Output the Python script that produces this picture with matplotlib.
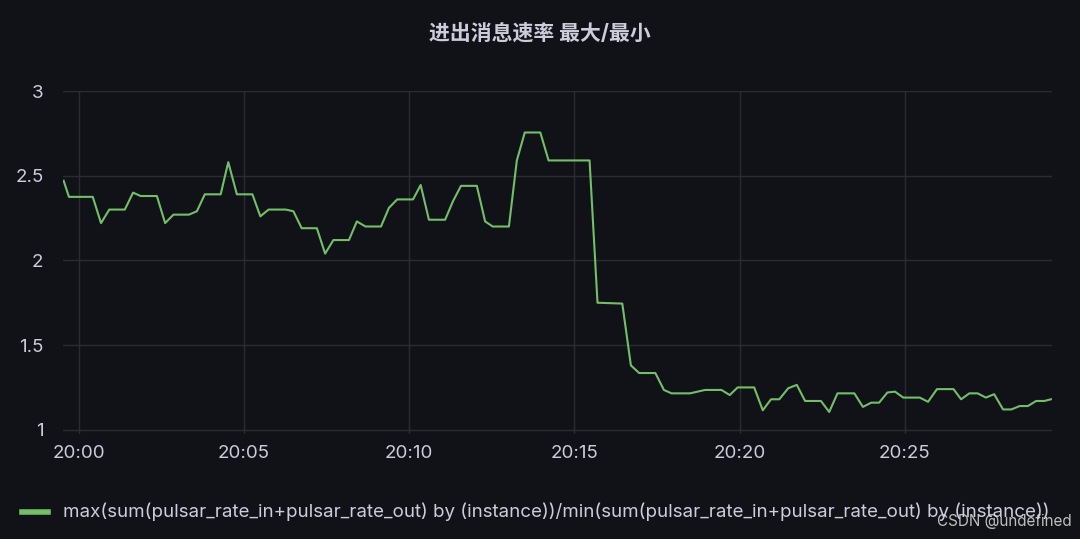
import matplotlib
matplotlib.use("Agg")
import matplotlib.pyplot as plt
import matplotlib.dates as mdates
import pandas as pd

plt.rcParams['font.family'] = ['Inter', 'Noto Sans CJK SC', 'DejaVu Sans']

minutes = [-0.45,-0.29,0.43,0.68,0.93,1.40,1.65,1.88,2.37,2.62,2.87,3.34,3.58,3.82,4.30,4.53,4.79,5.26,5.50,5.75,6.27,6.5,6.75,7.21,7.46,7.71,8.18,8.42,8.68,9.15,9.39,9.64,10.12,10.35,10.6,11.09,11.33,11.57,12.05,12.3,12.53,13.02,13.26,13.5,13.97,14.22,14.93,15.46,15.70,16.45,16.71,16.96,17.45,17.71,17.94,18.5,18.95,19.45,19.7,19.94,20.44,20.7,20.95,21.2,21.47,21.73,21.98,22.46,22.71,22.96,23.47,23.73,23.98,24.22,24.47,24.7,24.95,25.45,25.7,25.97,26.47,26.7,26.95,27.2,27.45,27.7,27.97,28.22,28.47,28.72,28.97,29.22,29.42]
values = [2.47,2.375,2.375,2.22,2.30,2.30,2.40,2.38,2.38,2.22,2.27,2.27,2.29,2.39,2.39,2.58,2.39,2.39,2.26,2.30,2.30,2.29,2.19,2.19,2.04,2.12,2.12,2.23,2.20,2.20,2.31,2.36,2.36,2.445,2.24,2.24,2.35,2.44,2.44,2.23,2.20,2.20,2.59,2.755,2.755,2.59,2.59,2.59,1.75,1.745,1.38,1.335,1.335,1.235,1.215,1.215,1.235,1.235,1.205,1.25,1.25,1.115,1.18,1.18,1.245,1.265,1.17,1.17,1.105,1.215,1.215,1.135,1.16,1.16,1.22,1.225,1.19,1.19,1.165,1.24,1.24,1.18,1.215,1.215,1.19,1.21,1.12,1.12,1.14,1.14,1.17,1.17,1.18]
yticks = [1, 1.5, 2, 2.5, 3]
ytick_labels = ["1", "1.5", "2", "2.5", "3"]
title = "进出消息速率 最大/最小"
legend_label = "max(sum(pulsar_rate_in+pulsar_rate_out) by (instance))/min(sum(pulsar_rate_in+pulsar_rate_out) by (instance))"

base = pd.Timestamp("2024-01-01 20:00:00")
times = [base + pd.Timedelta(minutes=m) for m in minutes]

bg = "#111217"
txt = "#ccccdc"
fig = plt.figure(figsize=(10.8, 5.39), dpi=100, facecolor=bg)
ax = fig.add_axes([63/1080, 1-434/539, (1052-63)/1080, (434-91)/539], facecolor=bg)
ax.plot(times, values, color="#73bf69", lw=1.5)
ax.set_xlim(base + pd.Timedelta(minutes=-0.47), base + pd.Timedelta(minutes=29.45))
ax.set_ylim(0.975, 3)
ax.set_yticks(yticks)
ax.set_yticklabels(ytick_labels)
ax.xaxis.set_major_locator(mdates.MinuteLocator(byminute=range(0, 60, 5)))
ax.xaxis.set_major_formatter(mdates.DateFormatter("%H:%M"))
ax.grid(True, color="#2a2c31", lw=1)
for s in ax.spines.values():
    s.set_visible(False)
ax.tick_params(colors=txt, labelsize=13.5, length=0, pad=8)
ax.tick_params(axis='y', pad=14)
fig.text(0.5, 1-33/539, title, color=txt, fontsize=15, fontweight='bold', ha='center', va='center')

# legend strip (clipped at the right edge like the reference)
lax = fig.add_axes([0, 1-530/539, 1, 40/539])
lax.set_axis_off()
lax.set_xlim(0, 1080)
lax.set_ylim(0, 40)
lax.plot([22, 48], [18, 18], color="#73bf69", lw=4, clip_on=True)
lax.text(63, 18, legend_label, color=txt, fontsize=13.5, ha='left', va='center', clip_on=True)
fig.text(1072/1080, 1-521/539, "CSDN @undefined", color="#dddddd", fontsize=11, ha='right', va='center', alpha=0.85)
fig.savefig("out.png", dpi=100, facecolor=bg)
